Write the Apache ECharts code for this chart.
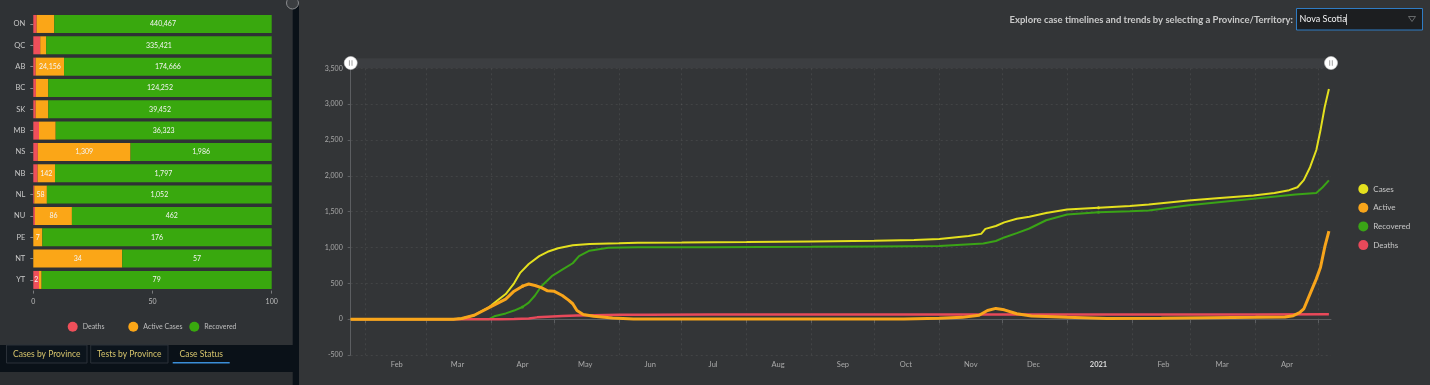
<!DOCTYPE html>
<html><head><meta charset="utf-8">
<script src="https://cdn.jsdelivr.net/npm/echarts@6/dist/echarts.min.js"></script>
<style>html,body{margin:0;padding:0;background:#0a1118;overflow:hidden}#c{width:1430px;height:385px}</style>
</head><body><div id="c"></div>
<script>
// ---------- Left panel: case status by province (share of cases, %) ----------
const provinces = ['ON','QC','AB','BC','SK','MB','NS','NB','NL','NU','PE','NT','YT'];
const deathsPct    = [1.4, 2.9, 1.0, 1.1, 1.0, 2.4, 1.9, 1.8, 0.4, 0.7, 0, 0, 2.4];
const activePct    = [7.4, 2.5, 11.9, 5.2, 5.3, 7.0, 38.9, 7.3, 5.3, 15.5, 3.8, 37.3, 1.1];
const recoveredPct = [91.2, 94.6, 87.1, 93.7, 93.7, 90.6, 59.2, 90.9, 94.3, 83.8, 96.2, 62.7, 96.5];
const deathsLabels    = ['','','','','','','','','','','','','2'];
const activeLabels    = ['','','24,156','','','','1,309','142','58','86','7','34',''];
const recoveredLabels = ['440,467','335,421','174,666','124,252','39,452','36,323','1,986','1,797','1,052','462','176','57','79'];
const pctTicks = [0, 50, 100];

// ---------- Right panel: Nova Scotia timeline ----------
const timelineStart = '2020-01-25';
const timelineEnd = '2021-05-07';
const monthNames = ['Jan','Feb','Mar','Apr','May','Jun','Jul','Aug','Sep','Oct','Nov','Dec'];
const countTicks = [-500, 3500, 500]; // min, max, step

const casesData = [
  ['2020-01-25',0],['2020-03-14',0],['2020-03-18',10],['2020-03-24',55],['2020-03-31',165],
  ['2020-04-04',260],['2020-04-08',350],['2020-04-12',500],['2020-04-15',650],['2020-04-19',770],
  ['2020-04-24',880],['2020-04-28',940],['2020-05-03',990],['2020-05-10',1030],['2020-05-18',1050],
  ['2020-06-01',1058],['2020-06-10',1065],['2020-07-01',1068],['2020-08-01',1075],['2020-09-01',1085],
  ['2020-10-01',1095],['2020-10-20',1105],['2020-11-01',1120],['2020-11-15',1160],['2020-11-21',1190],
  ['2020-11-23',1260],['2020-11-28',1300],['2020-12-02',1350],['2020-12-08',1400],['2020-12-14',1430],
  ['2020-12-22',1480],['2021-01-01',1530],['2021-01-16',1555],['2021-01-31',1580],['2021-02-09',1600],
  ['2021-02-28',1655],['2021-03-15',1690],['2021-03-31',1725],['2021-04-10',1760],['2021-04-17',1800],
  ['2021-04-21',1840],['2021-04-24',1940],['2021-04-27',2120],['2021-04-30',2360],['2021-05-02',2640],
  ['2021-05-04',2960],['2021-05-06',3210]
];
const activeData = [
  ['2020-01-25',0],['2020-03-14',0],['2020-03-18',10],['2020-03-24',55],['2020-03-31',160],
  ['2020-04-04',220],['2020-04-08',280],['2020-04-12',390],['2020-04-16',460],['2020-04-19',490],
  ['2020-04-22',470],['2020-04-25',440],['2020-04-28',395],['2020-05-01',390],['2020-05-05',330],
  ['2020-05-08',265],['2020-05-10',215],['2020-05-12',120],['2020-05-15',65],['2020-05-20',40],
  ['2020-05-29',15],['2020-06-08',3],['2020-07-01',1],['2020-08-15',4],['2020-09-15',2],
  ['2020-10-15',3],['2020-11-01',12],['2020-11-12',25],['2020-11-20',55],['2020-11-24',120],
  ['2020-11-28',150],['2020-12-02',130],['2020-12-08',75],['2020-12-15',45],['2021-01-01',25],
  ['2021-01-20',10],['2021-02-15',12],['2021-03-10',20],['2021-04-01',25],['2021-04-15',30],
  ['2021-04-19',49],['2021-04-22',90],['2021-04-24',142],['2021-04-27',352],['2021-04-30',562],
  ['2021-05-02',725],['2021-05-04',1004],['2021-05-06',1228]
];
const recoveredData = [
  ['2020-01-25',0],['2020-03-31',0],['2020-04-03',45],['2020-04-08',80],['2020-04-12',120],
  ['2020-04-16',170],['2020-04-19',230],['2020-04-22',330],['2020-04-25',460],['2020-04-30',600],
  ['2020-05-05',690],['2020-05-10',780],['2020-05-13',880],['2020-05-18',955],['2020-05-27',995],
  ['2020-06-10',1003],['2020-07-15',1005],['2020-09-01',1010],['2020-10-01',1015],['2020-11-01',1022],
  ['2020-11-22',1055],['2020-11-28',1090],['2020-12-02',1140],['2020-12-08',1200],['2020-12-14',1265],
  ['2020-12-22',1380],['2021-01-01',1460],['2021-01-16',1490],['2021-01-31',1505],['2021-02-09',1517],
  ['2021-02-28',1590],['2021-03-31',1680],['2021-04-20',1740],['2021-04-30',1760],['2021-05-03',1840],
  ['2021-05-06',1937]
];
const deathsData = [
  ['2020-01-25',0],['2020-04-05',0],['2020-04-12',3],['2020-04-19',10],['2020-04-23',25],
  ['2020-04-28',35],['2020-05-05',45],['2020-05-12',50],['2020-05-20',55],['2020-06-01',60],
  ['2020-06-15',63],['2020-07-15',64],['2020-08-15',65],['2021-02-01',65],['2021-04-01',66],
  ['2021-05-06',67]
];

function buildDays(s, e) {
  const out = [];
  let t = Date.parse(s + 'T00:00:00Z');
  const end = Date.parse(e + 'T00:00:00Z');
  while (t <= end) { out.push(new Date(t).toISOString().slice(0, 10)); t += 86400000; }
  return out;
}
const days = buildDays(timelineStart, timelineEnd);
const isMonthStart = (i, v) => v.slice(8) === '01';
const isMidMonth = (i, v) => v.slice(8) === '16';

const C = { red: '#ef4f5a', orange: '#fba617', green: '#39a80e', yellow: '#e4e01e',
            lineRed: '#e8495a', lineOrange: '#f8a51b', lineGreen: '#3aa416' };
const FONT = 'Lato';

const chart = echarts.init(document.getElementById('c'), null, { renderer: 'canvas' });

const barLabel = (arr) => ({
  show: true, position: 'inside', color: '#f4f4f4', fontSize: 7, fontFamily: FONT,
  formatter: p => arr[p.dataIndex]
});
const txt = (text, x, y, opts) => ({ type: 'text', silent: true, style: Object.assign({
  text, x, y, fill: '#d6c46c', fontSize: 8.5, fontFamily: FONT,
  align: 'center', verticalAlign: 'middle', textAlign: 'center', textVerticalAlign: 'middle' }, opts || {}) });
const handle = (cx) => [
  { type: 'circle', z: 100, silent: true, shape: { cx, cy: 63, r: 6.5 }, style: { fill: '#ffffff', stroke: '#cfcfcf', lineWidth: 0.6 } },
  { type: 'rect', z: 101, silent: true, shape: { x: cx - 1.8, y: 60.3, width: 1, height: 5.4 }, style: { fill: '#a0a0a0' } },
  { type: 'rect', z: 101, silent: true, shape: { x: cx + 0.8, y: 60.3, width: 1, height: 5.4 }, style: { fill: '#a0a0a0' } }
];

chart.setOption({
  animation: false,
  backgroundColor: 'transparent',
  textStyle: { fontFamily: FONT },
  graphic: { elements: [
    { type: 'rect', z: -10, silent: true, shape: { x: 0, y: 0, width: 292.7, height: 345 }, style: { fill: '#2f3235' } },
    { type: 'rect', z: -10, silent: true, shape: { x: 299, y: 0, width: 1131, height: 385 }, style: { fill: '#333537' } },
    { type: 'rect', z: -10, silent: true, shape: { x: 0, y: 372, width: 292.7, height: 13 }, style: { fill: '#2b2e31' } },
    { type: 'circle', z: 10, silent: true, shape: { cx: 292.5, cy: 3, r: 6 }, style: { fill: '#3b3e41', stroke: '#8a8c8e', lineWidth: 1 } },
    // tabs
    { type: 'rect', silent: true, shape: { x: 6.5, y: 345, width: 80.5, height: 18 }, style: { fill: '#0c141c', stroke: '#2a3038', lineWidth: 1 } },
    txt('Cases by Province', 46.7, 354.5),
    { type: 'rect', silent: true, shape: { x: 90.7, y: 345, width: 77.3, height: 18 }, style: { fill: '#0c141c', stroke: '#2a3038', lineWidth: 1 } },
    txt('Tests by Province', 129.3, 354.5),
    txt('Case Status', 201.2, 354.5),
    { type: 'rect', silent: true, shape: { x: 172.7, y: 362, width: 57, height: 1.6 }, style: { fill: '#3b8ed8' } },
    // selector
    txt('Explore case timelines and trends by selecting a Province/Territory:', 1293, 19.5,
        { fill: '#c9c9c9', fontSize: 9.5, fontWeight: 'bold', align: 'right', textAlign: 'right' }),
    { type: 'rect', silent: true, shape: { x: 1296.5, y: 8.5, width: 126, height: 21.5 }, style: { fill: '#1c1e20', stroke: '#2f7cc4', lineWidth: 1 } },
    txt('Nova Scotia', 1299.5, 19.5, { fill: '#f2f2f2', fontSize: 9, align: 'left', textAlign: 'left' }),
    { type: 'line', silent: true, shape: { x1: 1346.5, y1: 14, x2: 1346.5, y2: 25 }, style: { stroke: '#e0e0e0', lineWidth: 0.8 } },
    { type: 'polygon', silent: true, shape: { points: [[1408.5, 16.5], [1415.5, 16.5], [1412, 21.5]] }, style: { fill: 'none', stroke: '#7a7c7e', lineWidth: 0.8 } }
  ].concat(handle(350.7), handle(1331))},
  grid: [
    { left: 33.3, top: 13.3, width: 238.4, height: 277.3 },
    { left: 350.7, top: 68.3, width: 980.3, height: 286.7 }
  ],
  legend: [
    { data: [{ name: 'Deaths', itemStyle: { color: C.red } }], left: 62.7, top: 316.7, icon: 'circle', itemWidth: 10, itemHeight: 10, selectedMode: false, textStyle: { color: '#bdbdbd', fontSize: 7, fontFamily: FONT } },
    { data: [{ name: 'Active Cases', itemStyle: { color: C.orange } }], left: 123.3, top: 316.7, icon: 'circle', itemWidth: 10, itemHeight: 10, selectedMode: false, textStyle: { color: '#bdbdbd', fontSize: 7, fontFamily: FONT } },
    { data: [{ name: 'Recovered', itemStyle: { color: C.green } }], left: 184.3, top: 316.7, icon: 'circle', itemWidth: 10, itemHeight: 10, selectedMode: false, textStyle: { color: '#bdbdbd', fontSize: 7, fontFamily: FONT } },
    { data: [
        { name: 'Cases', itemStyle: { color: C.yellow } },
        { name: 'Active', itemStyle: { color: C.lineOrange } },
        { name: 'Recovered', itemStyle: { color: C.lineGreen } },
        { name: 'Deaths', itemStyle: { color: C.lineRed } }
      ], orient: 'vertical', left: 1353.3, top: 179, icon: 'circle', itemWidth: 10, itemHeight: 10, itemGap: 8.7, selectedMode: false,
      textStyle: { color: '#c8c8c8', fontSize: 8, fontFamily: FONT } }
  ],
  xAxis: [
    { gridIndex: 0, type: 'value', min: pctTicks[0], max: pctTicks[2], interval: pctTicks[1] - pctTicks[0],
      axisLine: { show: false }, splitLine: { show: false },
      axisTick: { show: true, length: 3, lineStyle: { color: '#7a7c7e' } },
      axisLabel: { color: '#bdbdbd', fontSize: 7, margin: 8, fontFamily: FONT } },
    { gridIndex: 1, type: 'category', data: days, boundaryGap: false,
      axisLine: { show: true, lineStyle: { color: '#5c5e61' } },
      axisTick: { show: true, interval: isMonthStart, length: 4, lineStyle: { color: '#5c5e61' } },
      splitLine: { show: true, interval: isMonthStart, lineStyle: { color: 'rgba(255,255,255,0.075)', type: [2, 3] } },
      axisLabel: { interval: isMidMonth, color: '#a9a9a9', fontSize: 7.5, margin: 6, fontFamily: FONT,
        formatter: v => { const m = +v.slice(5, 7); return m === 1 ? '{y|' + v.slice(0, 4) + '}' : monthNames[m - 1]; },
        rich: { y: { fontWeight: 'bold', color: '#d8d8d8', fontSize: 7.5, fontFamily: FONT } } } }
  ],
  yAxis: [
    { gridIndex: 0, type: 'category', data: provinces, inverse: true,
      axisLine: { show: false },
      axisTick: { show: true, alignWithLabel: true, length: 3, lineStyle: { color: '#8a8c8e' } },
      axisLabel: { color: '#c8c8c8', fontSize: 7.5, margin: 8, fontFamily: FONT } },
    { gridIndex: 1, type: 'value', min: countTicks[0], max: countTicks[1], interval: countTicks[2],
      axisLine: { show: true, lineStyle: { color: '#5c5e61' } },
      axisTick: { show: true, length: 3, lineStyle: { color: '#5c5e61' } },
      splitLine: { show: true, lineStyle: { color: 'rgba(255,255,255,0.075)', type: [2, 3] } },
      axisLabel: { color: '#a9a9a9', fontSize: 7, margin: 8, fontFamily: FONT, formatter: v => v.toLocaleString('en-US') } }
  ],
  dataZoom: [{
    type: 'slider', xAxisIndex: 1, filterMode: 'none', start: 0, end: 100, zoomLock: true,
    left: 350.7, width: 980.3, top: 58.3, height: 10,
    showDetail: false, showDataShadow: false, brushSelect: false, moveHandleSize: 0,
    backgroundColor: '#3c3e41', borderColor: 'transparent', fillerColor: 'rgba(0,0,0,0)',
    dataBackground: { lineStyle: { opacity: 0 }, areaStyle: { opacity: 0 } },
    handleSize: 0, handleStyle: { opacity: 0 }
  }],
  series: [
    { name: 'Deaths', type: 'bar', stack: 'status', xAxisIndex: 0, yAxisIndex: 0, barWidth: 18, data: deathsPct, itemStyle: { color: C.red }, label: barLabel(deathsLabels) },
    { name: 'Active Cases', type: 'bar', stack: 'status', xAxisIndex: 0, yAxisIndex: 0, barWidth: 18, data: activePct, itemStyle: { color: C.orange }, label: barLabel(activeLabels) },
    { name: 'Recovered', type: 'bar', stack: 'status', xAxisIndex: 0, yAxisIndex: 0, barWidth: 18, data: recoveredPct, itemStyle: { color: C.green }, label: barLabel(recoveredLabels) },

    { name: 'Recovered', type: 'line', xAxisIndex: 1, yAxisIndex: 1, data: recoveredData, z: 3,
      symbol: 'circle', symbolSize: 3, showSymbol: true, lineStyle: { width: 2, color: C.lineGreen }, itemStyle: { color: C.lineGreen } },
    { name: 'Deaths', type: 'line', xAxisIndex: 1, yAxisIndex: 1, data: deathsData, z: 4,
      symbol: 'circle', symbolSize: 3, showSymbol: true, lineStyle: { width: 2.5, color: C.lineRed }, itemStyle: { color: C.lineRed } },
    { name: 'Cases', type: 'line', xAxisIndex: 1, yAxisIndex: 1, data: casesData, z: 5,
      symbol: 'circle', symbolSize: 3, showSymbol: true, lineStyle: { width: 2, color: C.yellow }, itemStyle: { color: C.yellow } },
    { name: 'Active', type: 'line', xAxisIndex: 1, yAxisIndex: 1, data: activeData, z: 6,
      symbol: 'circle', symbolSize: 3.5, showSymbol: true, lineStyle: { width: 3, color: C.lineOrange }, itemStyle: { color: C.lineOrange } }
  ]
});
</script>
</body></html>
